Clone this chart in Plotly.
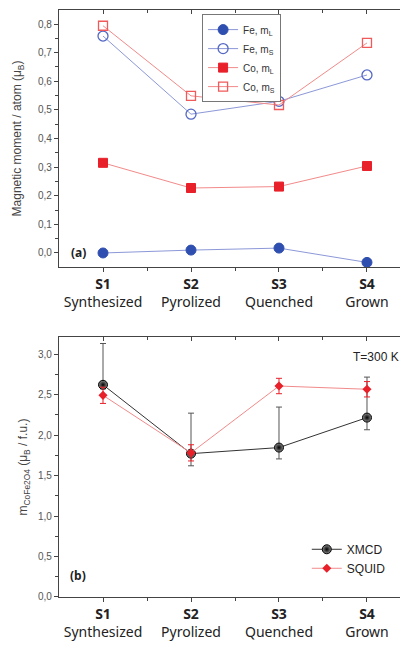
import plotly.graph_objects as go

# ---------------- data ----------------
samples = [1, 2, 3, 4]
tick_labels = ["<b>S1</b><br>Synthesized", "<b>S2</b><br>Pyrolized",
               "<b>S3</b><br>Quenched", "<b>S4</b><br>Grown"]

fe_ml = [0.000, 0.010, 0.017, -0.033]
fe_ms = [0.758, 0.485, 0.530, 0.622]
co_ml = [0.315, 0.227, 0.232, 0.304]
co_ms = [0.794, 0.549, 0.517, 0.734]

xmcd = [2.62, 1.77, 1.845, 2.215]
xmcd_err_plus = [0.51, 0.50, 0.50, 0.50]
xmcd_err_minus = [0.05, 0.15, 0.14, 0.15]
squid = [2.49, 1.78, 2.605, 2.565]
squid_err = [0.10, 0.10, 0.095, 0.095]

# ---------------- styles ----------------
BLUE = "#2f4fb0"
BLUE_LINE = "#8c98d8"
RED = "#e8202a"
RED_LINE = "#f28a8a"
AX = "#444444"
TICKFONT = dict(family="Liberation Sans, Arial", size=10, color="#555555")
CATFONT = dict(family="Noto Sans, Open Sans", size=14, color="#222222")

fig = go.Figure()

# Panel (a)
fig.add_trace(go.Scatter(x=samples, y=fe_ml, mode="lines+markers", name="Fe, m<sub>L</sub>",
                         line=dict(color=BLUE_LINE, width=1),
                         marker=dict(symbol="circle", size=10, color=BLUE, line=dict(color=BLUE, width=1)),
                         xaxis="x", yaxis="y", legend="legend"))
fig.add_trace(go.Scatter(x=samples, y=fe_ms, mode="lines+markers", name="Fe, m<sub>S</sub>",
                         line=dict(color=BLUE_LINE, width=1),
                         marker=dict(symbol="circle-open", size=10, color="#5468c4", line=dict(width=1.3)),
                         xaxis="x", yaxis="y", legend="legend"))
fig.add_trace(go.Scatter(x=samples, y=co_ml, mode="lines+markers", name="Co, m<sub>L</sub>",
                         line=dict(color=RED_LINE, width=1),
                         marker=dict(symbol="square", size=9, color=RED, line=dict(color=RED, width=1)),
                         xaxis="x", yaxis="y", legend="legend"))
fig.add_trace(go.Scatter(x=samples, y=co_ms, mode="lines+markers", name="Co, m<sub>S</sub>",
                         line=dict(color=RED_LINE, width=1),
                         marker=dict(symbol="square-open", size=9, color="#f05a5a", line=dict(width=1.3)),
                         xaxis="x", yaxis="y", legend="legend"))

# Panel (b)
fig.add_trace(go.Scatter(x=samples, y=xmcd, mode="lines+markers", name="XMCD",
                         line=dict(color="#333333", width=1),
                         marker=dict(symbol="circle", size=9, color="#8a8a8a",
                                     gradient=dict(type="radial", color="#000000"),
                                     line=dict(color="#000000", width=1)),
                         error_y=dict(type="data", symmetric=False, array=xmcd_err_plus,
                                      arrayminus=xmcd_err_minus, color="#555555", thickness=1, width=3),
                         xaxis="x2", yaxis="y2", legend="legend2"))
fig.add_trace(go.Scatter(x=samples, y=squid, mode="lines+markers", name="SQUID",
                         line=dict(color=RED_LINE, width=1),
                         marker=dict(symbol="diamond", size=7, color=RED),
                         error_y=dict(type="data", array=squid_err, color=RED, thickness=1, width=3),
                         xaxis="x2", yaxis="y2", legend="legend2"))

# dummy traces to realise overlay axes
for xa, ya in [("x3", "y3"), ("x4", "y4")]:
    fig.add_trace(go.Scatter(x=[None], y=[None], xaxis=xa, yaxis=ya, showlegend=False, hoverinfo="skip"))

XR = [0.5, 4.466]
YRA = [-0.049, 0.849]
YRB = [0.0, 3.21]
DOM_A = [0.5622, 1.0]
DOM_B = [0.0, 0.4429]

common_x = dict(range=XR, tickmode="array", tickvals=samples, showgrid=False, zeroline=False,
                linecolor=AX, linewidth=1.3, tickcolor=AX, ticklen=4, tickwidth=1)
bottom_x = dict(common_x, ticks="outside", ticktext=tick_labels, tickfont=CATFONT, showline=True,
                minor=dict(tickvals=[1.5, 2.5, 3.5], ticks="outside", ticklen=3, tickcolor=AX))
top_x = dict(common_x, ticks="inside", showticklabels=False, showline=True, side="top",
             minor=dict(tickvals=[1.5, 2.5, 3.5], ticks="inside", ticklen=3, tickcolor=AX))

fig.update_layout(
    width=400, height=644,
    margin=dict(l=51, r=0, t=2, b=55),
    paper_bgcolor="white", plot_bgcolor="white",
    separators=",.",
    showlegend=True,
    xaxis=dict(bottom_x, anchor="y"),
    xaxis2=dict(bottom_x, anchor="y2"),
    xaxis3=dict(top_x, overlaying="x", anchor="y3"),
    xaxis4=dict(top_x, overlaying="x2", anchor="y4"),
    yaxis=dict(domain=DOM_A, range=YRA, tickvals=[0, 0.1, 0.2, 0.3, 0.4, 0.5, 0.6, 0.7, 0.8],
               tickformat=".1f", ticks="outside", ticklen=4, tickcolor=AX, showline=True,
               linecolor=AX, linewidth=1.3, showgrid=False, zeroline=False, tickfont=TICKFONT,
               minor=dict(dtick=0.05, tick0=0, ticks="outside", ticklen=3, tickcolor=AX),
               title=dict(text="Magnetic moment / atom (μ<sub>B</sub>)",
                          font=dict(family="Liberation Sans, Arial", size=12, color="#444444"),
                          standoff=13),
               anchor="x"),
    yaxis2=dict(domain=DOM_B, range=YRB, tickvals=[0, 0.5, 1.0, 1.5, 2.0, 2.5, 3.0],
                tickformat=".1f", ticks="outside", ticklen=4, tickcolor=AX, showline=True,
                linecolor=AX, linewidth=1.3, showgrid=False, zeroline=False, tickfont=TICKFONT,
                minor=dict(dtick=0.25, tick0=0, ticks="outside", ticklen=3, tickcolor=AX),
                title=dict(text="m<sub>CoFe2O4</sub> (μ<sub>B</sub> / f.u.)",
                           font=dict(family="Liberation Sans, Arial", size=12, color="#444444"),
                           standoff=7),
                anchor="x2"),
    yaxis3=dict(domain=DOM_A, range=YRA, overlaying="y", side="right", anchor="x3",
                tickvals=[0, 0.1, 0.2, 0.3, 0.4, 0.5, 0.6, 0.7, 0.8], ticks="inside", ticklen=4,
                tickcolor=AX, showticklabels=False, showline=False, showgrid=False, zeroline=False,
                minor=dict(dtick=0.05, tick0=0, ticks="inside", ticklen=3, tickcolor=AX)),
    yaxis4=dict(domain=DOM_B, range=YRB, overlaying="y2", side="right", anchor="x4",
                tickvals=[0, 0.5, 1.0, 1.5, 2.0, 2.5, 3.0], ticks="inside", ticklen=4,
                tickcolor=AX, showticklabels=False, showline=False, showgrid=False, zeroline=False,
                minor=dict(dtick=0.25, tick0=0, ticks="inside", ticklen=3, tickcolor=AX)),
    legend=dict(x=0.41, y=0.993, xanchor="left", yanchor="top", bgcolor="white",
                bordercolor="#777777", borderwidth=1,
                font=dict(family="Liberation Sans, Arial", size=10, color="#333333"),
                tracegroupgap=0, itemwidth=30),
    legend2=dict(x=0.71, y=0.106, xanchor="left", yanchor="top", bgcolor="rgba(0,0,0,0)",
                 borderwidth=0,
                 font=dict(family="Liberation Sans, Arial", size=12, color="#222222"),
                 tracegroupgap=0, itemwidth=30),
    annotations=[
        dict(text="<b>(a)</b>", x=0.716, y=0.0, xref="x", yref="y", showarrow=False,
             font=dict(family="Noto Sans, Open Sans", size=12, color="#222222")),
        dict(text="<b>(b)</b>", x=0.716, y=0.27, xref="x2", yref="y2", showarrow=False,
             font=dict(family="Noto Sans, Open Sans", size=12, color="#222222")),
        dict(text="T=300 K", x=4.39, y=2.965, xref="x2", yref="y2", xanchor="right",
             showarrow=False, font=dict(family="Liberation Sans, Arial", size=12, color="#222222")),
    ],
)

fig.write_html("out.html")
